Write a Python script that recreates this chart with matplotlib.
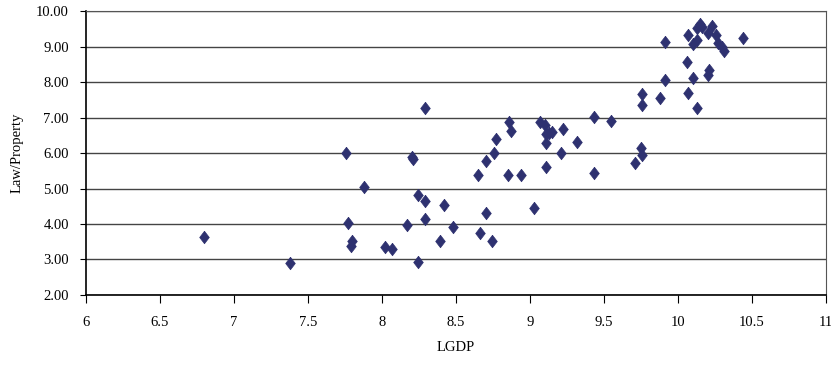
import matplotlib.pyplot as plt
from matplotlib.ticker import FormatStrFormatter

# LGDP vs Law/Property
lgdp = [6.80, 7.375, 7.76, 7.77, 7.80, 7.79, 7.88, 8.02, 8.07, 8.17,
        8.20, 8.21, 8.24, 8.24, 8.29, 8.29, 8.29, 8.39, 8.42, 8.48,
        8.65, 8.66, 8.70, 8.70, 8.74, 8.76, 8.77, 8.85, 8.86, 8.87,
        8.94, 9.03, 9.07, 9.10, 9.11, 9.11, 9.11, 9.13, 9.15, 9.21,
        9.22, 9.32, 9.43, 9.43, 9.55, 9.71, 9.75, 9.76, 9.76, 9.76,
        9.88, 9.91, 9.91, 10.06, 10.07, 10.07, 10.10, 10.10, 10.13, 10.13,
        10.13, 10.15, 10.16, 10.20, 10.20, 10.21, 10.23, 10.26, 10.27, 10.30,
        10.31, 10.44]
law = [3.63, 2.89, 5.99, 4.02, 3.53, 3.38, 5.03, 3.36, 3.29, 3.97,
       5.90, 5.83, 4.82, 2.94, 7.26, 4.65, 4.14, 3.52, 4.54, 3.92,
       5.38, 3.74, 5.77, 4.30, 3.52, 6.01, 6.39, 5.38, 6.86, 6.62,
       5.38, 4.44, 6.86, 6.78, 6.53, 6.27, 5.61, 6.55, 6.58, 6.01,
       6.68, 6.30, 7.02, 5.45, 6.91, 5.71, 6.15, 7.65, 7.34, 5.94,
       7.54, 9.12, 8.05, 8.56, 9.32, 7.70, 9.06, 8.10, 9.51, 9.18,
       7.26, 9.63, 9.55, 9.37, 8.20, 8.34, 9.59, 9.32, 9.09, 9.00,
       8.87, 9.23]

plt.rcParams['font.family'] = ['Liberation Serif', 'DejaVu Serif']

fig = plt.figure(figsize=(8.31, 3.65), dpi=100)
ax = fig.add_axes([0.1035, 0.1918, 0.8905, 0.778])

# Excel-style diamond, a bit taller than wide
diamond = [(0, 1), (0.77, 0), (0, -1), (-0.77, 0), (0, 1)]
ax.plot(lgdp, law, linestyle='none', marker=diamond, markersize=9,
        color='#2E3170', markeredgecolor='#2E3170', markeredgewidth=0.5, zorder=3)

ax.set_xlim(6, 11)
ax.set_ylim(2, 10)
ax.set_xticks([6, 6.5, 7, 7.5, 8, 8.5, 9, 9.5, 10, 10.5, 11])
ax.set_xticklabels(['6', '6.5', '7', '7.5', '8', '8.5', '9', '9.5', '10', '10.5', '11'])
ax.set_yticks(range(2, 11))
ax.yaxis.set_major_formatter(FormatStrFormatter('%.2f'))
ax.tick_params(axis='x', labelsize=10.5, length=5.8, color='black', pad=9)
ax.tick_params(axis='y', labelsize=10.5, length=4.3, color='black', pad=8)

ax.yaxis.grid(True, color='#444444', linewidth=1.0)
ax.set_axisbelow(True)
for s in ['top', 'right']:
    ax.spines[s].set_color('#555555')
for s in ['left', 'bottom']:
    ax.spines[s].set_color('black')
    ax.spines[s].set_linewidth(1.2)

ax.set_xlabel('LGDP', fontsize=10.5, labelpad=9)
ax.set_ylabel('Law/Property', fontsize=10.5, labelpad=9)

fig.savefig('out.png', dpi=100)
